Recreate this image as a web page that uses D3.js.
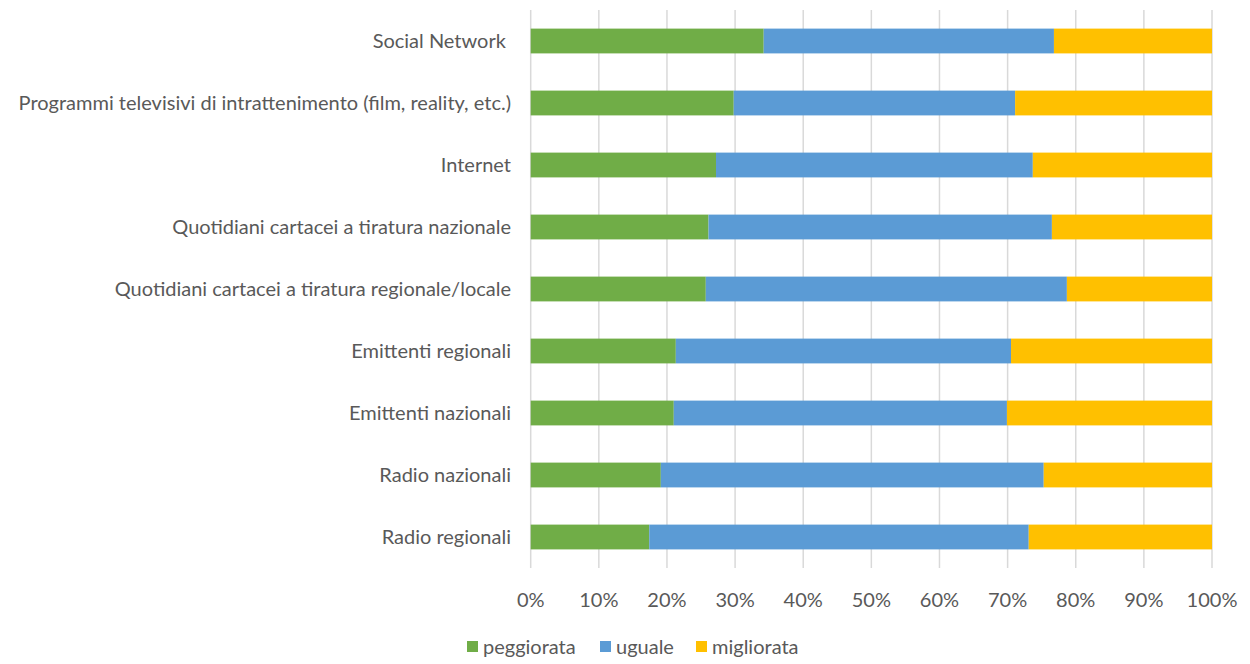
<!DOCTYPE html>
<html>
<head>
<meta charset="utf-8">
<script src="https://cdn.jsdelivr.net/npm/d3@7"></script>
<style>
  html, body { margin: 0; padding: 0; background: #fff; }
  svg text { font-family: Lato, "Open Sans", sans-serif; fill: #595959; }
</style>
</head>
<body>
<svg id="chart" width="1250" height="664"></svg>
<script>
// Media categories, top to bottom
const categories = [
  "Social Network ",
  "Programmi televisivi di intrattenimento (film, reality, etc.)",
  "Internet",
  "Quotidiani cartacei a tiratura nazionale",
  "Quotidiani cartacei a tiratura regionale/locale",
  "Emittenti regionali",
  "Emittenti nazionali",
  "Radio nazionali",
  "Radio regionali"
];

// Share of answers (%) per category
const peggiorata = [34.2, 29.8, 27.2, 26.1, 25.7, 21.3, 21.0, 19.1, 17.4];
const uguale     = [42.6, 41.3, 46.5, 50.4, 53.0, 49.2, 48.9, 56.2, 55.7];
const migliorata = [23.2, 28.9, 26.3, 23.5, 21.3, 29.5, 30.1, 24.7, 26.9];

const seriesNames = ["peggiorata", "uguale", "migliorata"];
const seriesColors = ["#70AD47", "#5B9BD5", "#FFC000"];
const tickValues = [0, 10, 20, 30, 40, 50, 60, 70, 80, 90, 100];

const rows = categories.map((c, i) => ({
  category: c,
  peggiorata: peggiorata[i],
  uguale: uguale[i],
  migliorata: migliorata[i]
}));

const svg = d3.select("#chart");
const plot = { left: 530.7, right: 1212, top: 10, bottom: 568 };
const fontSize = 20;

const x = d3.scaleLinear().domain([0, 100]).range([plot.left, plot.right]);
const y = d3.scaleBand().domain(categories).range([plot.top, plot.bottom])
  .paddingInner(0.6).paddingOuter(0.3);

// Vertical gridlines
svg.append("g")
  .selectAll("line")
  .data(tickValues)
  .join("line")
  .attr("x1", d => x(d)).attr("x2", d => x(d))
  .attr("y1", plot.top).attr("y2", plot.bottom)
  .attr("stroke", "#D9D9D9")
  .attr("stroke-width", 1.5);

// Stacked bars
const stack = d3.stack().keys(seriesNames);
const layers = stack(rows);

svg.append("g")
  .selectAll("g")
  .data(layers)
  .join("g")
  .attr("fill", (d, i) => seriesColors[i])
  .selectAll("rect")
  .data(d => d)
  .join("rect")
  .attr("x", d => x(d[0]))
  .attr("width", d => x(d[1]) - x(d[0]))
  .attr("y", d => y(d.data.category))
  .attr("height", y.bandwidth());

// Category labels
svg.append("g")
  .selectAll("text")
  .data(categories)
  .join("text")
  .attr("x", 511)
  .attr("y", d => y(d) + y.bandwidth() / 2)
  .attr("dy", "0.35em")
  .attr("text-anchor", "end")
  .attr("font-size", fontSize)
  .style("white-space", "pre")
  .text(d => d);

// X-axis tick labels
svg.append("g")
  .selectAll("text")
  .data(tickValues)
  .join("text")
  .attr("x", d => x(d))
  .attr("y", 600)
  .attr("dy", "0.35em")
  .attr("text-anchor", "middle")
  .attr("font-size", fontSize)
  .text(d => d + "%");

// Legend
const legendX = [467, 600, 696];
const legend = svg.append("g")
  .selectAll("g")
  .data(seriesNames)
  .join("g")
  .attr("transform", (d, i) => `translate(${legendX[i]},0)`);
legend.append("rect")
  .attr("x", 0).attr("y", 641)
  .attr("width", 11).attr("height", 11)
  .attr("fill", (d, i) => seriesColors[i]);
legend.append("text")
  .attr("x", 16).attr("y", 647)
  .attr("dy", "0.35em")
  .attr("font-size", fontSize)
  .text(d => d);
</script>
</body>
</html>
